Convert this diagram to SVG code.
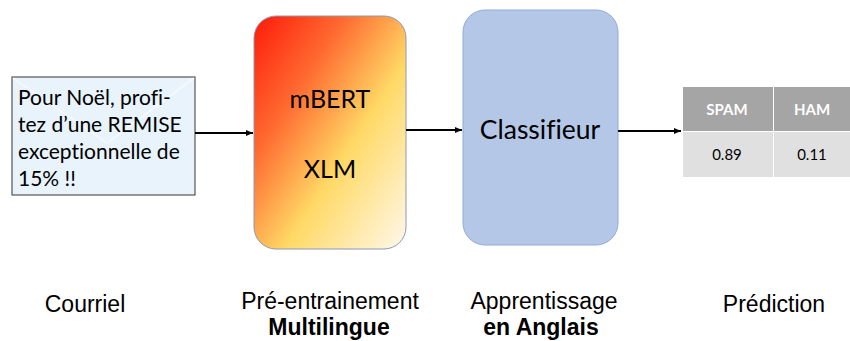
<svg xmlns="http://www.w3.org/2000/svg" width="850" height="341" viewBox="0 0 850 341">
<defs>
<linearGradient id="g1" x1="0" y1="0" x2="1" y2="1">
<stop offset="0" stop-color="#ff1a0a"/>
<stop offset="0.3" stop-color="#ff6a30"/>
<stop offset="0.6" stop-color="#ffd966"/>
<stop offset="1" stop-color="#fff8ec"/>
</linearGradient>
<marker id="ah" markerWidth="8" markerHeight="8" refX="7" refY="4" orient="auto" markerUnits="userSpaceOnUse">
<path d="M0,1 L7,4 L0,7 z" fill="#000"/>
</marker>
<style>
.cal{font-family:Lato,"Open Sans","Liberation Sans",sans-serif;fill:#000;font-variant-ligatures:none}
.lab{font-family:"Liberation Sans",Arial,sans-serif;font-size:23px;fill:#000;text-anchor:middle}
.b{font-weight:bold}
.conn{stroke:#000;stroke-width:2;fill:none;marker-end:url(#ah)}
</style>
</defs>
<rect width="850" height="341" fill="#fff"/>
<g id="courriel">
<rect x="12" y="77" width="183" height="118" fill="#e8f3fb" stroke="#555" stroke-width="1.2"/>
<path d="M13,78 L107,143 L194,78" fill="none" stroke="#fff" stroke-width="2" opacity="0.5"/>
<text class="cal" font-size="21" x="18">
<tspan x="18" y="105">Pour Noël, profi-</tspan>
<tspan x="18" y="132">tez d’une REMISE</tspan>
<tspan x="18" y="159">exceptionnelle de</tspan>
<tspan x="18" y="186">15% !!</tspan>
</text>
</g>
<g id="pretrain">
<rect x="254" y="16" width="152" height="233" rx="22" fill="url(#g1)" stroke="#8a9ab8" stroke-width="1"/>
<text class="cal" font-size="25" x="330" y="108" text-anchor="middle">mBERT</text>
<text class="cal" font-size="25" x="330" y="178" text-anchor="middle">XLM</text>
</g>
<g id="classifieur">
<rect x="463" y="10" width="155" height="235" rx="22" fill="#b4c7e7" stroke="#8faadc" stroke-width="1"/>
<text class="cal" font-size="26.5" x="540" y="139" text-anchor="middle">Classifieur</text>
</g>
<g id="prediction">
<rect x="683" y="87" width="90" height="44" fill="#a5a5a5"/>
<rect x="774" y="87" width="76" height="44" fill="#a5a5a5"/>
<rect x="683" y="132" width="90" height="45" fill="#e0e0e0"/>
<rect x="774" y="132" width="76" height="45" fill="#e0e0e0"/>
<text class="cal b" font-size="15" x="727" y="115" text-anchor="middle" style="fill:#fff">SPAM</text>
<text class="cal b" font-size="15" x="812" y="115" text-anchor="middle" style="fill:#fff">HAM</text>
<text class="cal" font-size="15" x="727" y="160" text-anchor="middle">0.89</text>
<text class="cal" font-size="15" x="812" y="160" text-anchor="middle">0.11</text>
</g>
<g id="connectors">
<line class="conn" x1="195" y1="133" x2="253" y2="133"/>
<line class="conn" x1="406" y1="130" x2="462" y2="130"/>
<line class="conn" x1="618" y1="131" x2="681" y2="131"/>
</g>
<g id="labels">
<text class="lab" x="85" y="312">Courriel</text>
<text class="lab" x="330" y="309">Pré-entrainement</text>
<text class="lab b" x="329" y="335">Multilingue</text>
<text class="lab" x="544" y="309">Apprentissage</text>
<text class="lab b" x="541" y="335">en Anglais</text>
<text class="lab" x="774" y="312">Prédiction</text>
</g>
</svg>
